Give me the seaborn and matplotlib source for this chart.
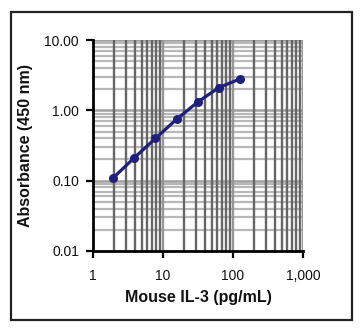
import numpy as np
import pandas as pd
import seaborn as sns
import matplotlib
matplotlib.use("Agg")
import matplotlib.pyplot as plt
from matplotlib.patches import Rectangle
from matplotlib.ticker import FixedLocator, FixedFormatter, NullFormatter

# Standard curve data
concentration = [1.95, 3.9, 7.8, 15.6, 31.25, 62.5, 125.0]
absorbance = [0.110, 0.212, 0.40, 0.745, 1.31, 2.10, 2.79]

x_ticks = [1, 10, 100, 1000]
x_tick_labels = ["1", "10", "100", "1,000"]
y_ticks = [0.01, 0.1, 1.0, 10.0]
y_tick_labels = ["0.01", "0.10", "1.00", "10.00"]

df = pd.DataFrame({"conc": concentration, "od": absorbance})

sns.set_theme(style="white")
plt.rcParams["font.family"] = ["Liberation Sans", "DejaVu Sans"]

fig = plt.figure(figsize=(3.62, 3.30), dpi=100)
ax = fig.add_axes([93 / 362, 1 - 251 / 330, 210 / 362, 211 / 330])

ax.set_xscale("log")
ax.set_yscale("log")
ax.set_xlim(1, 1000)
ax.set_ylim(0.01, 10)

# Grid: light horizontal lines, darker vertical minor lines
minor_x = [m * 10 ** d for d in range(0, 3) for m in range(2, 10)]
minor_y = [m * 10 ** d for d in range(-2, 1) for m in range(2, 10)]
for yv in minor_y:
    ax.axhline(yv, color="#b8b8b8", lw=1.6, zorder=0.5)
for yv in [0.1, 1.0, 10.0]:
    ax.axhline(yv, color="#a0a0a0", lw=1.8, zorder=0.6)
for xv in minor_x:
    ax.axvline(xv, color="#666666", lw=1.7, zorder=0.7)
for xv in [10, 100, 1000]:
    ax.axvline(xv, color="#969696", lw=1.7, zorder=0.7)

sns.lineplot(data=df, x="conc", y="od", ax=ax, color="#1f1f7c", lw=2.3,
             marker="o", markersize=6.5, markeredgewidth=0, zorder=3)

ax.xaxis.set_major_locator(FixedLocator(x_ticks))
ax.xaxis.set_major_formatter(FixedFormatter(x_tick_labels))
ax.xaxis.set_minor_formatter(NullFormatter())
ax.yaxis.set_major_locator(FixedLocator(y_ticks))
ax.yaxis.set_major_formatter(FixedFormatter(y_tick_labels))
ax.yaxis.set_minor_formatter(NullFormatter())
ax.tick_params(axis="both", which="major", direction="out", length=5, width=1.6,
               color="black", labelsize=10, bottom=True, left=True,
               labelcolor="#111111")
ax.tick_params(axis="x", which="major", pad=8)
ax.tick_params(axis="y", which="major", pad=5)
ax.tick_params(axis="both", which="minor", length=0)

for side in ["top", "right"]:
    ax.spines[side].set_visible(False)
for side in ["left", "bottom"]:
    ax.spines[side].set_color("black")
    ax.spines[side].set_linewidth(2.0)

ax.set_xlabel("Mouse IL-3 (pg/mL)", fontsize=11.5, fontweight="bold", labelpad=5,
              color="#111111")
ax.set_ylabel("Absorbance (450 nm)", fontsize=11.5, fontweight="bold", labelpad=8,
              color="#111111")
ax.set_facecolor("white")

# Frame around the whole figure
fig.patches.append(Rectangle((11 / 362, 1 - 320 / 330), 341 / 362, 308 / 330,
                             transform=fig.transFigure, fill=False,
                             edgecolor="#222222", lw=1.6))

fig.savefig("out.png", dpi=100, facecolor="white")
